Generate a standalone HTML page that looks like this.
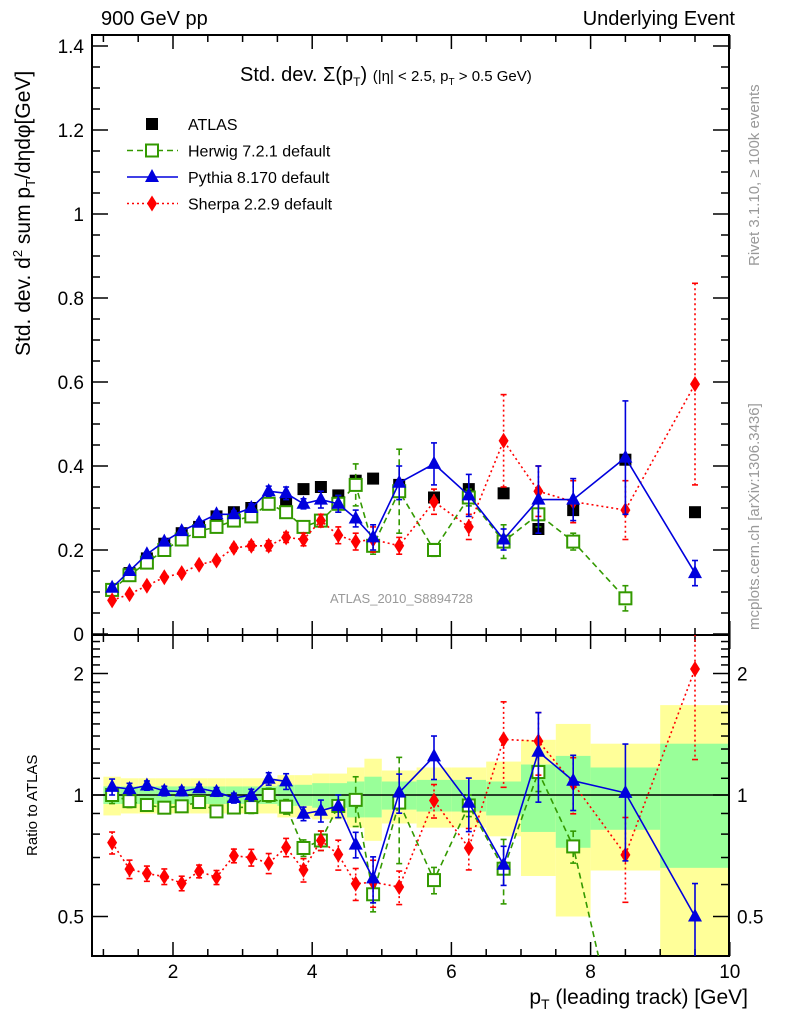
<!DOCTYPE html>
<html><head><meta charset="utf-8"><style>
html,body{margin:0;background:#fff;width:786px;height:1024px;overflow:hidden;}
svg{display:block;font-family:"Liberation Sans",sans-serif;}
</style></head><body>
<svg id="c" width="786" height="1024" viewBox="0 0 786 1024"></svg>
<script>
const xs=[1.125,1.375,1.625,1.875,2.125,2.375,2.625,2.875,3.125,3.375,3.625,3.875,4.125,4.375,4.625,4.875,5.25,5.75,6.25,6.75,7.25,7.75,8.5,9.5];
const binEdges=[1,1.25,1.5,1.75,2,2.25,2.5,2.75,3,3.25,3.5,3.75,4,4.25,4.5,4.75,5,5.5,6,6.5,7,7.5,8,9,10];
const atlas=[0.105,0.145,0.18,0.215,0.24,0.255,0.28,0.29,0.30,0.31,0.31,0.345,0.35,0.33,0.365,0.37,0.355,0.325,0.345,0.335,0.25,0.295,0.415,0.29];
const herwig=[0.105,0.14,0.17,0.20,0.225,0.245,0.255,0.27,0.28,0.31,0.29,0.255,0.27,0.31,0.355,0.21,0.34,0.20,0.325,0.22,0.285,0.22,0.085,null];
const herwigErr=[0.005,0.005,0.005,0.006,0.006,0.006,0.007,0.008,0.01,0.012,0.012,0.012,0.015,0.02,0.05,0.02,0.1,0.015,0.02,0.04,0.03,0.02,0.03,0];
const pythia=[0.11,0.15,0.19,0.22,0.245,0.265,0.285,0.285,0.30,0.34,0.335,0.31,0.32,0.31,0.275,0.23,0.36,0.405,0.33,0.225,0.32,0.32,0.42,0.145];
const pythiaErr=[0.005,0.005,0.005,0.006,0.006,0.006,0.007,0.008,0.01,0.012,0.015,0.012,0.02,0.02,0.02,0.03,0.04,0.05,0.05,0.025,0.08,0.05,0.135,0.03];
const sherpa=[0.08,0.095,0.115,0.135,0.145,0.165,0.175,0.205,0.21,0.21,0.23,0.225,0.27,0.235,0.22,0.225,0.21,0.315,0.255,0.46,0.34,0.315,0.295,0.595];
const sherpaErr=[0.005,0.005,0.005,0.006,0.006,0.006,0.007,0.008,0.01,0.012,0.012,0.015,0.015,0.02,0.02,0.03,0.02,0.03,0.03,0.11,0.06,0.05,0.07,0.24];
const greenHi=[1.05,1.05,1.05,1.05,1.05,1.05,1.05,1.05,1.05,1.05,1.06,1.06,1.07,1.07,1.08,1.11,1.08,1.09,1.09,1.08,1.19,1.25,1.17,1.34];
const greenLo=[0.95,0.95,0.95,0.95,0.95,0.95,0.95,0.95,0.95,0.95,0.94,0.94,0.93,0.93,0.88,0.88,0.92,0.91,0.91,0.89,0.81,0.74,0.82,0.66];
const yellowHi=[1.11,1.1,1.1,1.1,1.1,1.1,1.1,1.1,1.1,1.1,1.12,1.12,1.13,1.13,1.17,1.23,1.15,1.17,1.17,1.21,1.37,1.5,1.34,1.67];
const yellowLo=[0.89,0.9,0.9,0.9,0.9,0.9,0.9,0.9,0.9,0.9,0.88,0.88,0.87,0.87,0.83,0.77,0.85,0.83,0.83,0.79,0.63,0.5,0.65,0.3];
const mainTicks=[0,0.2,0.4,0.6,0.8,1,1.2,1.4];
const mainTickLabels=["0","0.2","0.4","0.6","0.8","1","1.2","1.4"];
const ratioTicks=[0.5,1,2];
const xTicks=[2,4,6,8,10];

const L=92,R=729,MT=35,MB=635,RB=956;
const X=v=>173+(v-2)*69.6;
const Y=v=>634-420*v;
const YR=r=>795-121.5*Math.log2(r);
const svg=document.getElementById('c');
const NS='http://www.w3.org/2000/svg';
function mk(tag,attrs,parent){const e=document.createElementNS(NS,tag);for(const k in attrs)e.setAttribute(k,attrs[k]);(parent||svg).appendChild(e);return e;}

const defs=mk('defs',{});
const c1=mk('clipPath',{id:'cm'},defs);mk('rect',{x:L,y:MT,width:R-L,height:MB-MT},c1);
const c2=mk('clipPath',{id:'cr'},defs);mk('rect',{x:L,y:MB,width:R-L,height:RB-MB},c2);

const gBand=mk('g',{'clip-path':'url(#cr)'});


for(let i=0;i<xs.length;i++){
  const x0=X(binEdges[i]),x1=X(binEdges[i+1]);
  const yb=mk('rect',{x:x0,y:YR(yellowHi[i]),width:x1-x0,height:YR(yellowLo[i])-YR(yellowHi[i]),fill:'#ffff99'},gBand);
  
  
  const gb=mk('rect',{x:x0,y:YR(greenHi[i]),width:x1-x0,height:YR(greenLo[i])-YR(greenHi[i]),fill:'#99ff99'},gBand);
  
  
}
mk('line',{x1:L,x2:R,y1:YR(1),y2:YR(1),stroke:'#000','stroke-width':1.5});

function frame(top,bot){mk('rect',{x:L,y:top,width:R-L,height:bot-top,fill:'none',stroke:'#000','stroke-width':2});}
frame(MT,MB);frame(MB,RB);
for(let v=1;v<=10.001;v+=0.5){
  const major=Math.abs(v-Math.round(v/2)*2)<1e-6;
  const len=major?14:7;
  for(const [t,b] of [[MT,MB],[MB,RB]]){
    mk('line',{x1:X(v),x2:X(v),y1:b,y2:b-len,stroke:'#000','stroke-width':1.5});
    mk('line',{x1:X(v),x2:X(v),y1:t,y2:t+len,stroke:'#000','stroke-width':1.5});
  }
}
for(let v=0;v<=1.42;v+=0.05){
  const major=Math.abs(v/0.2-Math.round(v/0.2))<1e-6;const len=major?16:8;
  mk('line',{x1:L,x2:L+len,y1:Y(v),y2:Y(v),stroke:'#000','stroke-width':1.5});
  mk('line',{x1:R,x2:R-len,y1:Y(v),y2:Y(v),stroke:'#000','stroke-width':1.5});
}
mainTicks.forEach((v,i)=>{const t=mk('text',{x:L-8,y:Y(v)+7,'text-anchor':'end','font-size':19});t.textContent=mainTickLabels[i];
});
const rMinor=[0.5,0.6,0.7,0.8,0.9,1,1.1,1.2,1.3,1.4,1.5,1.6,1.7,1.8,1.9,2,2.1,2.2,2.3,2.4];
rMinor.forEach(v=>{const major=ratioTicks.includes(v);const len=major?16:8;
  mk('line',{x1:L,x2:L+len,y1:YR(v),y2:YR(v),stroke:'#000','stroke-width':1.5});
  mk('line',{x1:R,x2:R-len,y1:YR(v),y2:YR(v),stroke:'#000','stroke-width':1.5});});
ratioTicks.forEach(v=>{
  const s=String(v);
  const t=mk('text',{x:L-8,y:YR(v)+7,'text-anchor':'end','font-size':19});t.textContent=s;
  
  const t2=mk('text',{x:R+8,y:YR(v)+7,'text-anchor':'start','font-size':19});t2.textContent=s;
  
});
xTicks.forEach(v=>{const t=mk('text',{x:X(v),y:978,'text-anchor':'middle','font-size':19});t.textContent=String(v);
});

function marker(type,x,y,col,g){
  if(type==='sq') return mk('rect',{x:x-6,y:y-6,width:12,height:12,fill:'#000'},g);
  if(type==='osq') return mk('rect',{x:x-6,y:y-6,width:12,height:12,fill:'#fff',stroke:col,'stroke-width':2},g);
  if(type==='tri') return mk('polygon',{points:`${x},${y-8} ${x-7},${y+5} ${x+7},${y+5}`,fill:col},g);
  if(type==='dia') return mk('polygon',{points:`${x},${y-8} ${x+5},${y} ${x},${y+8} ${x-5},${y}`,fill:col},g);
}
function series(name,vals,errs,col,dash,type,ratio){
  const g=mk('g',{'clip-path':ratio?'url(#cr)':'url(#cm)'});
  
  
  const yf=ratio?(i,v)=>YR(v/atlas[i]):(i,v)=>Y(v);
  let pts=[];
  vals.forEach((v,i)=>{if(v!==null)pts.push(X(xs[i])+','+yf(i,v));});
  if(dash!==null) mk('polyline',{points:pts.join(' '),fill:'none',stroke:col,'stroke-width':1.6,'stroke-dasharray':dash},g);
  vals.forEach((v,i)=>{
    if(v===null)return;
    const x=X(xs[i]);
    if(errs){const e=errs[i];const y1=yf(i,v+e),y2=yf(i,Math.max(v-e,0.001));
      mk('line',{x1:x,x2:x,y1:y1,y2:y2,stroke:col,'stroke-width':1.6,'stroke-dasharray':dash||''},g);
      mk('line',{x1:x-3,x2:x+3,y1:y1,y2:y1,stroke:col,'stroke-width':1.6},g);
      mk('line',{x1:x-3,x2:x+3,y1:y2,y2:y2,stroke:col,'stroke-width':1.6},g);}
    const m=marker(type,x,yf(i,v),col,g);
    
    
  });
}
series('atlas',atlas,null,'#000',null,'sq',false);
series('herwig',herwig,herwigErr,'#339900','6,4','osq',false);
series('sherpa',sherpa,sherpaErr,'#ff0000','2,3','dia',false);
series('pythia',pythia,pythiaErr,'#0000dd','','tri',false);
series('herwig',herwig,herwigErr,'#339900','6,4','osq',true);
series('sherpa',sherpa,sherpaErr,'#ff0000','2,3','dia',true);
series('pythia',pythia,pythiaErr,'#0000dd','','tri',true);

const leg=[['ATLAS','sq','#000',null],['Herwig 7.2.1 default','osq','#339900','6,4'],['Pythia 8.170 default','tri','#0000dd',''],['Sherpa 2.2.9 default','dia','#ff0000','2,3']];
leg.forEach((l,i)=>{
  const y=124+i*26.5;
  const g=mk('g',{});
  
  
  if(l[3]!==null) mk('line',{x1:127,x2:178,y1:y,y2:y,stroke:l[2],'stroke-width':1.6,'stroke-dasharray':l[3]},g);
  marker(l[1],152,y,l[2],g);
  const t=mk('text',{x:188,y:y+6,'font-size':16},g);t.textContent=l[0];
});
</script>
<div style="position:absolute;left:0;top:0;width:786px;height:1024px;overflow:hidden;pointer-events:none;font-family:'Liberation Sans',sans-serif;">
<div style="position:absolute;left:101px;top:8px;font-size:20px;">900 GeV pp</div>
<div style="position:absolute;right:51px;top:8px;font-size:20px;">Underlying Event</div>
<div style="position:absolute;left:240px;top:64px;font-size:20px;white-space:nowrap;">Std. dev. Σ(p<sub style="font-size:12px">T</sub>) <span style="font-size:15px">(|η| &lt; 2.5, p<sub style="font-size:10px">T</sub> &gt; 0.5 GeV)</span></div>
<div style="position:absolute;left:330px;top:591px;font-size:13px;color:#999;">ATLAS_2010_S8894728</div>
<div style="position:absolute;left:10px;top:200px;font-size:21px;white-space:nowrap;transform-origin:0 0;transform:translate(0px,156px) rotate(-90deg);">Std. dev. d<sup style="font-size:13px">2</sup> sum p<sub style="font-size:13px">T</sub>/dηdφ[GeV]</div>
<div style="position:absolute;left:24px;top:856px;font-size:15px;white-space:nowrap;transform-origin:0 0;transform:rotate(-90deg);">Ratio to ATLAS</div>
<div style="position:absolute;right:38px;top:986px;font-size:21px;line-height:24px;white-space:nowrap;">p<sub style="font-size:14px;line-height:0">T</sub> (leading track) [GeV]</div>
<div style="position:absolute;left:746px;top:266px;font-size:15px;color:#999;white-space:nowrap;transform-origin:0 0;transform:rotate(-90deg);">Rivet 3.1.10, ≥ 100k events</div>
<div style="position:absolute;left:746px;top:630px;font-size:15px;color:#999;white-space:nowrap;transform-origin:0 0;transform:rotate(-90deg);">mcplots.cern.ch [arXiv:1306.3436]</div>
</div>
</body></html>
